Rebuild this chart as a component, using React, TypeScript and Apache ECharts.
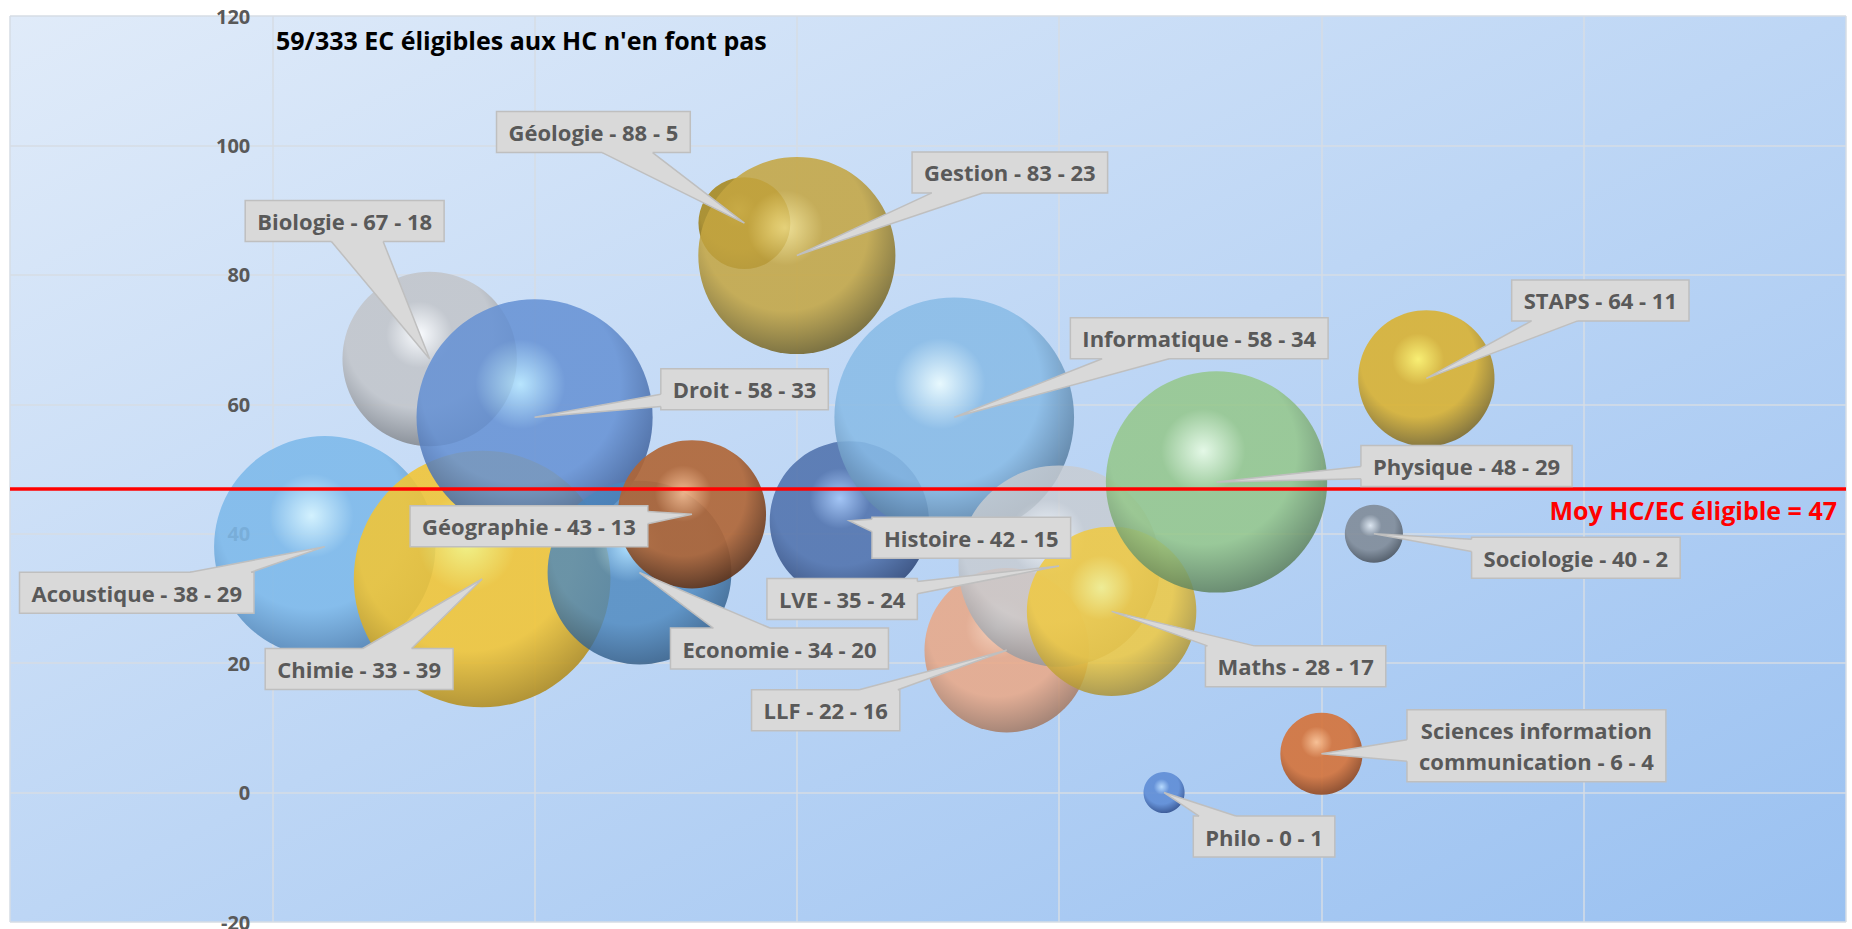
import React, { useEffect, useRef } from "react";
import * as echarts from "echarts";

// ---------- data ----------
const disciplines = [
  "Acoustique", "Biologie", "Chimie", "Droit", "Economie", "Géographie",
  "Géologie", "Gestion", "Histoire", "Informatique", "LLF", "LVE", "Maths",
  "Philo", "Physique", "Sciences information\ncommunication", "Sociologie", "STAPS",
];
const xIndex = [1, 3, 4, 5, 7, 8, 9, 10, 11, 13, 14, 15, 16, 17, 18, 20, 21, 22];
const hcParEc = [38, 67, 33, 58, 34, 43, 88, 83, 42, 58, 22, 35, 28, 0, 48, 6, 40, 64];
const ecEligibles = [29, 18, 39, 33, 20, 13, 5, 23, 15, 34, 16, 24, 17, 1, 29, 4, 2, 11];
const moyenne = 47;
const titre = "59/333 EC éligibles aux HC n'en font pas";
const moyenneLabel = `Moy HC/EC éligible = ${moyenne}`;
const yTicks = { min: -20, max: 120, interval: 20 };
const xTicks = { min: -5, max: 30, interval: 5 };

// ---------- styles / layout ----------
const bubbleColors: string[][] = [
  ["#d4f4ff", "#7db9ea", "#4a7aab"],
  ["#ffffff", "#c2c5ca", "#787d84"],
  ["#f6f57a", "#f2c534", "#a8841a"],
  ["#b5e6ff", "#6591d4", "#36558c"],
  ["#a9e0ff", "#4a86bd", "#264f78"],
  ["#f7b685", "#b06535", "#552c14"],
  ["#e0c85a", "#a88a22", "#614e10"],
  ["#f3df86", "#c4a540", "#665922"],
  ["#9fc2f5", "#5072ad", "#2a4170"],
  ["#eefeff", "#88bbe6", "#4a6c8c"],
  ["#ffd2b5", "#eaa886", "#9a735e"],
  ["#ffffff", "#c8ccd1", "#868b92"],
  ["#f6f28a", "#f0c93e", "#9f8832"],
  ["#b7dbff", "#5f8dd6", "#2a4784"],
  ["#ecffe4", "#94c788", "#557653"],
  ["#ffbf8c", "#d5733a", "#84401c"],
  ["#e0e8f0", "#818c99", "#454e58"],
  ["#fff266", "#d9b233", "#75642b"],
];
const bubbleOpacity = [0.88, 0.88, 0.88, 0.86, 0.8, 0.9, 0.9, 0.86, 0.88, 0.86, 0.86, 0.82, 0.84, 0.9, 0.84, 0.9, 0.9, 0.9];
// callout box centre offsets from the bubble centre (px)
const labelOffsets: number[][] = [
  [-188, 46], [-85, -138], [-123, 90], [210, -28], [140, 76], [-163, 12],
  [-151, -91], [213, -83], [122, 17], [245, -79], [-181, 60], [-217, 33],
  [184, 55], [100, 44], [250, -16], [215, -8], [202, 24], [174, -78],
];
const BUBBLE_K = 41.1;
const GRID = { left: 10, right: 6, top: 16, bottom: 7 };
const CHART_W = 1852;
const CHART_H = 929;
const FONT_FAMILY = '"Open Sans", "Noto Sans", sans-serif';
const LABEL_FONT = `bold 22px ${FONT_FAMILY}`;
const LINE_H = 31;
const BOX_FILL = "#d9d9d9";
const BOX_STROKE = "#bfbfbf";

let measureCtx: CanvasRenderingContext2D | null = null;
function measure(text: string, font: string): number {
  if (!measureCtx) measureCtx = document.createElement("canvas").getContext("2d");
  if (!measureCtx) return text.length * 11;
  measureCtx.font = font;
  return measureCtx.measureText(text).width;
}

function sphere(c: string[]) {
  return new echarts.graphic.RadialGradient(0.44, 0.36, 0.68, [
    { offset: 0, color: c[0] },
    { offset: 0.28, color: c[1] },
    { offset: 0.62, color: c[1] },
    { offset: 1, color: c[2] },
  ]);
}

function clamp(v: number, a: number, b: number) {
  return Math.max(a, Math.min(b, v));
}

export default function App() {
  const ref = useRef<HTMLDivElement>(null);

  useEffect(() => {
    document.body.style.margin = "0";
    if (!ref.current) return;
    const chart = echarts.init(ref.current, null, { renderer: "svg" });

    const bubbleData = disciplines.map((name, i) => ({
      name,
      value: [xIndex[i], hcParEc[i], ecEligibles[i]],
      itemStyle: { color: sphere(bubbleColors[i]), opacity: bubbleOpacity[i] },
    }));
    const labelData = disciplines.map((_, i) => [xIndex[i], hcParEc[i], ecEligibles[i], i]);

    const renderCallout = (params: any, api: any) => {
      const i = params.dataIndex;
      const p = api.coord([api.value(0), api.value(1)]);
      const [dx, dy] = labelOffsets[i];
      const cx = p[0] + dx;
      const cy = p[1] + dy;
      const text = `${disciplines[i]} - ${hcParEc[i]} - ${ecEligibles[i]}`;
      const lines = text.split("\n");
      const tw = Math.max(...lines.map((l) => measure(l, LABEL_FONT)));
      const w = tw + 24;
      const h = lines.length * LINE_H + 10;
      const x0 = cx - w / 2;
      const x1 = cx + w / 2;
      const y0 = cy - h / 2;
      const y1 = cy + h / 2;
      const vx = p[0] - cx;
      const vy = p[1] - cy;
      const tx = Math.abs(vx) > 1e-6 ? w / 2 / Math.abs(vx) : 1e9;
      const ty = Math.abs(vy) > 1e-6 ? h / 2 / Math.abs(vy) : 1e9;
      let b1: number[];
      let b2: number[];
      let inner1: number[];
      let inner2: number[];
      if (ty < tx) {
        const half = w * 0.13;
        const ex = clamp(cx + vx * ty, x0 + half + 2, x1 - half - 2);
        const ey = vy < 0 ? y0 : y1;
        const inw = vy < 0 ? 3 : -3;
        b1 = [ex - half, ey];
        b2 = [ex + half, ey];
        inner1 = [ex - half, ey + inw];
        inner2 = [ex + half, ey + inw];
      } else {
        const half = h * 0.15;
        const ey = clamp(cy + vy * tx, y0 + half + 2, y1 - half - 2);
        const ex = vx < 0 ? x0 : x1;
        const inw = vx < 0 ? 3 : -3;
        b1 = [ex, ey - half];
        b2 = [ex, ey + half];
        inner1 = [ex + inw, ey - half];
        inner2 = [ex + inw, ey + half];
      }
      return {
        type: "group",
        children: [
          {
            type: "rect",
            shape: { x: x0, y: y0, width: w, height: h },
            style: { fill: BOX_FILL, stroke: BOX_STROKE, lineWidth: 1.5 },
          },
          {
            type: "polygon",
            shape: { points: [[p[0], p[1]], b1, inner1, inner2, b2] },
            style: { fill: BOX_FILL, stroke: null },
          },
          {
            type: "polyline",
            shape: { points: [b1, [p[0], p[1]], b2] },
            style: { fill: null, stroke: BOX_STROKE, lineWidth: 1.5 },
          },
          {
            type: "text",
            style: {
              text,
              x: cx,
              y: cy,
              align: "center",
              verticalAlign: "middle",
              font: LABEL_FONT,
              fill: "#595959",
              lineHeight: LINE_H,
            },
          },
        ],
      };
    };

    const gridWidth = CHART_W - GRID.left - GRID.right;
    const yAxisOffset = -((0 - xTicks.min) / (xTicks.max - xTicks.min)) * gridWidth;

    chart.setOption({
      animation: false,
      backgroundColor: "#ffffff",
      grid: {
        ...GRID,
        outerBoundsMode: "none",
        show: true,
        borderWidth: 0,
        backgroundColor: new echarts.graphic.LinearGradient(0, 0, 1, 1, [
          { offset: 0, color: "#e0ebf9" },
          { offset: 0.5, color: "#bdd6f5" },
          { offset: 1, color: "#9ac1f1" },
        ]),
      },
      xAxis: {
        type: "value",
        min: xTicks.min,
        max: xTicks.max,
        interval: xTicks.interval,
        axisLabel: { show: false },
        axisTick: { show: false },
        axisLine: { show: false, onZero: false },
        splitLine: { show: true, lineStyle: { color: "#d6dce4", width: 1.5 } },
      },
      yAxis: {
        type: "value",
        position: "left",
        offset: yAxisOffset,
        min: yTicks.min,
        max: yTicks.max,
        interval: yTicks.interval,
        axisLine: { show: false, onZero: false },
        axisTick: { show: false },
        axisLabel: {
          color: "#595959",
          fontWeight: "bold",
          fontSize: 20,
          fontFamily: FONT_FAMILY,
          margin: 22,
        },
        splitLine: { show: true, lineStyle: { color: "#d6dce4", width: 1.5 } },
      },
      series: [
        {
          type: "scatter",
          z: 2,
          silent: true,
          data: bubbleData,
          symbolSize: (val: number[]) => BUBBLE_K * Math.sqrt(val[2]),
        },
        {
          type: "line",
          z: 5,
          silent: true,
          data: [],
          markLine: {
            silent: true,
            symbol: "none",
            animation: false,
            lineStyle: { color: "#ff0000", width: 3.6, type: "solid" },
            label: {
              show: true,
              position: "insideEndBottom",
              formatter: moyenneLabel,
              color: "#ff0000",
              fontWeight: "bold",
              fontSize: 25,
              fontFamily: FONT_FAMILY,
              distance: 9,
            },
            data: [{ yAxis: moyenne }],
          },
        },
        {
          type: "custom",
          z: 10,
          silent: true,
          clip: false,
          coordinateSystem: "cartesian2d",
          encode: { x: 0, y: 1 },
          data: labelData,
          renderItem: renderCallout,
        },
      ],
      graphic: [
        {
          type: "text",
          x: 276,
          y: 40,
          z: 20,
          style: {
            text: titre,
            font: `bold 25px ${FONT_FAMILY}`,
            fill: "#000000",
            verticalAlign: "middle",
          },
        },
      ],
    });

    return () => chart.dispose();
  }, []);

  return <div ref={ref} style={{ width: CHART_W, height: CHART_H }} />;
}
